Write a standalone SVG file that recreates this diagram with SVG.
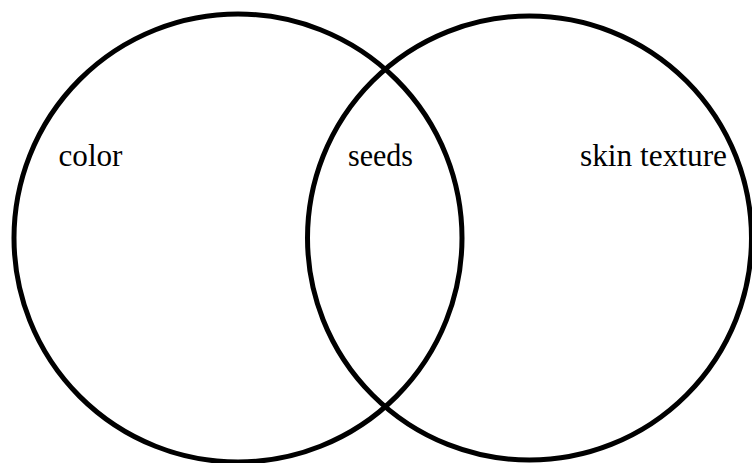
<svg xmlns="http://www.w3.org/2000/svg" width="752" height="463" viewBox="0 0 752 463">
<style>
.ring{fill:none;stroke:#000;stroke-width:5}
.lbl{font-family:"Times New Roman","Liberation Serif",serif;font-size:31px;fill:#000}
</style>
<rect width="752" height="463" fill="#fff"/>
<g id="set-left">
<circle class="ring" cx="238" cy="238" r="224"/>
<text class="lbl" x="58.5" y="166" textLength="64" lengthAdjust="spacingAndGlyphs">color</text>
</g>
<g id="set-right">
<circle class="ring" cx="529.5" cy="238" r="222"/>
<text class="lbl" x="580" y="166" textLength="147" lengthAdjust="spacingAndGlyphs">skin texture</text>
</g>
<g id="overlap">
<text class="lbl" x="348" y="166" textLength="65" lengthAdjust="spacingAndGlyphs">seeds</text>
</g>
<g id="connectors"></g>
</svg>
